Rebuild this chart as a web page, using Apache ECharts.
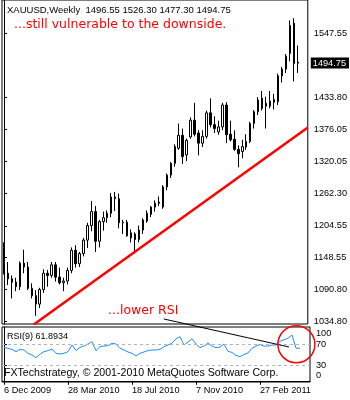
<!DOCTYPE html>
<html>
<head>
<meta charset="utf-8">
<script src="https://cdn.jsdelivr.net/npm/echarts@6/dist/echarts.min.js"></script>
<style>
html, body { margin: 0; padding: 0; background: #fff; }
#chart { width: 350px; height: 400px; }
</style>
</head>
<body>
<div id="chart"></div>
<script>
// XAUUSD weekly bars, Dec 2009 - May 2011
const weeks = [
  '6 Dec 2009','13 Dec 2009','20 Dec 2009','27 Dec 2009',
  '3 Jan 2010','10 Jan 2010','17 Jan 2010','24 Jan 2010','31 Jan 2010',
  '7 Feb 2010','14 Feb 2010','21 Feb 2010','28 Feb 2010',
  '7 Mar 2010','14 Mar 2010','21 Mar 2010','28 Mar 2010',
  '4 Apr 2010','11 Apr 2010','18 Apr 2010','25 Apr 2010',
  '2 May 2010','9 May 2010','16 May 2010','23 May 2010','30 May 2010',
  '6 Jun 2010','13 Jun 2010','20 Jun 2010','27 Jun 2010',
  '4 Jul 2010','11 Jul 2010','18 Jul 2010','25 Jul 2010',
  '1 Aug 2010','8 Aug 2010','15 Aug 2010','22 Aug 2010','29 Aug 2010',
  '5 Sep 2010','12 Sep 2010','19 Sep 2010','26 Sep 2010',
  '3 Oct 2010','10 Oct 2010','17 Oct 2010','24 Oct 2010','31 Oct 2010',
  '7 Nov 2010','14 Nov 2010','21 Nov 2010','28 Nov 2010',
  '5 Dec 2010','12 Dec 2010','19 Dec 2010','26 Dec 2010',
  '2 Jan 2011','9 Jan 2011','16 Jan 2011','23 Jan 2011','30 Jan 2011',
  '6 Feb 2011','13 Feb 2011','20 Feb 2011','27 Feb 2011',
  '6 Mar 2011','13 Mar 2011','20 Mar 2011','27 Mar 2011',
  '3 Apr 2011','10 Apr 2011','17 Apr 2011','24 Apr 2011',
  '1 May 2011','8 May 2011'
];
// empty space kept to the right of the last bar
const shiftWeeks = ['15 May 2011', '22 May 2011'];

const opens = [
  1166,1120,1110,1104, 1096,1138,1131,1093,1080, 1065,1091,1120,1116,
  1135,1113,1103,1106, 1125,1161,1137,1155, 1179,1205,1230,1177,1212,
  1219,1227,1256,1253, 1210,1211,1192,1190, 1180,1197,1213,1225,1238,
  1247,1238,1274,1295, 1316,1343,1366,1331,1363, 1393,1370,1352,1364,
  1406,1385,1372,1381, 1420,1368,1359,1341,1337, 1345,1355,1387,1408,
  1432,1423,1418,1430, 1426,1472,1484,1512, 1566,1496.55
];
const highs = [
  1175,1140,1116,1112, 1141,1162,1140,1102,1090, 1094,1127,1126,1140,
  1140,1130,1112,1130, 1166,1170,1158,1183, 1210,1249,1240,1215,1230,
  1232,1263,1265,1262, 1215,1215,1198,1193, 1205,1218,1232,1240,1250,
  1257,1277,1298,1318, 1350,1387,1378,1360,1398, 1424,1375,1375,1410,
  1432,1400,1392,1424, 1425,1392,1375,1348,1358, 1368,1390,1411,1434,
  1445,1435,1445,1440, 1476,1488,1511,1571, 1575,1526.30
];
const lows = [
  1118,1099,1075,1088, 1090,1120,1090,1075,1044, 1058,1085,1096,1112,
  1105,1100,1088,1100, 1120,1130,1131,1150, 1165,1195,1158,1166,1196,
  1210,1220,1231,1200, 1190,1185,1175,1155, 1175,1190,1210,1220,1230,
  1240,1235,1268,1290, 1310,1340,1315,1320,1360, 1364,1330,1345,1360,
  1380,1370,1367,1375, 1352,1355,1338,1309,1325, 1340,1352,1378,1402,
  1410,1378,1414,1412, 1420,1460,1477,1498, 1462,1477.30
];
const closes = [
  1122,1110,1104,1096, 1138,1131,1093,1080,1065, 1091,1120,1116,1135,
  1113,1103,1106,1125, 1161,1137,1155,1179, 1205,1230,1177,1212,1219,
  1227,1256,1253,1210, 1211,1187,1183,1180, 1197,1215,1227,1238,1245,
  1245,1274,1295,1316, 1346,1366,1328,1357,1393, 1368,1352,1364,1406,
  1385,1378,1381,1420, 1367,1358,1341,1333,1346, 1355,1387,1408,1429,
  1414,1418,1427,1425, 1472,1484,1507,1562, 1494,1494.75
];

// RSI(9) of the weekly closes
const rsi9 = [
  63.6,61.7,59.8,55.4, 59.8,58.6,52.3,49.0,44.0, 50.5,55.4,57.3,60.4,
  52.3,51.0,52.3,55.4, 68.1,57.3,63.6,66.2, 70.0,74.4,57.3,64.9,66.2,
  66.8,71.3,70.0,61.7, 58.6,54.8,52.3,47.2, 52.3,54.8,57.3,58.6,58.6,
  59.8,64.9,68.1,71.3, 80.0,84.0,68.0,74.0,80.0, 70.0,63.0,66.0,72.0,
  66.0,63.0,64.0,70.0, 56.0,54.0,48.0,46.0,50.0, 53.0,62.0,66.0,69.0,
  66.0,66.0,68.0,68.0, 75.0,78.0,81.0,87.0, 62.0,61.8934
];

const priceTicks = [1034.80, 1090.80, 1148.55, 1204.55, 1262.30, 1320.05, 1376.05, 1433.80, 1547.55];
const rsiLevels = [30, 70];
const rsiTop = 100;
const rsiBottom = 0;
const lastPrice = 1494.75;
const dateLabelStep = 16;
// rising support line: [bar index, price]
const supportLine = [[7.5, 1028.7], [76.5, 1379.9]];
// arrow from the note to the RSI high, and the ring around it
const rsiArrowFrom = [40.25, 1038.4];
const rsiArrowTo = [71.25, 64.3];
const rsiRing = [73.1, 69.4];

const cats = weeks.concat(shiftWeeks);
const nBars = cats.length;

const chart = echarts.init(document.getElementById('chart'), null, { renderer: 'canvas' });
const labelFont = { fontFamily: 'Liberation Sans, Arial, sans-serif', fontSize: 9.2, color: '#000' };
const showDate = idx => idx % dateLabelStep === 0 && idx < weeks.length;

chart.setOption({
  animation: false,
  backgroundColor: '#fff',
  grid: [
    { left: 2, right: 40, top: 0, height: 324, show: true, borderColor: '#000', borderWidth: 1, backgroundColor: '#fff' },
    { left: 2, right: 40, top: 327, height: 55, show: true, borderColor: '#000', borderWidth: 1, backgroundColor: '#fff' }
  ],
  xAxis: [
    { type: 'category', gridIndex: 0, data: cats, boundaryGap: true, show: false },
    {
      type: 'category', gridIndex: 1, data: cats, boundaryGap: true,
      axisLine: { show: true, lineStyle: { color: '#000' } },
      axisTick: { show: true, interval: showDate, alignWithLabel: true, length: 4, lineStyle: { color: '#000' } },
      axisLabel: Object.assign({ interval: showDate, align: 'left', margin: 4, hideOverlap: false }, labelFont),
      splitLine: { show: false }
    },
    { type: 'value', gridIndex: 0, min: -0.5, max: nBars - 0.5, show: false },
    { type: 'value', gridIndex: 1, min: -0.5, max: nBars - 0.5, show: false }
  ],
  yAxis: [
    {
      type: 'value', gridIndex: 0, position: 'right', min: 1029.45, max: 1607.3,
      axisLine: { show: true, lineStyle: { color: '#000' } },
      axisTick: { show: true, customValues: priceTicks, length: 3, lineStyle: { color: '#000' } },
      axisLabel: Object.assign({ customValues: priceTicks, margin: 6, showMinLabel: true, showMaxLabel: true, formatter: v => v.toFixed(2) }, labelFont),
      splitLine: { show: false }
    },
    {
      // RSI scale; the level labels sit on their dashed lines
      type: 'value', gridIndex: 1, position: 'right', min: -2.38, max: 102.38,
      axisLine: { show: true, lineStyle: { color: '#000' } },
      axisTick: { show: true, customValues: rsiLevels, length: 3, lineStyle: { color: '#000' } },
      axisLabel: Object.assign({ customValues: rsiLevels, margin: 6, hideOverlap: false, lineHeight: 8 }, labelFont),
      splitLine: { show: false }
    },
    {
      // 0 and 100 are drawn pulled inside the pane, as the terminal does
      type: 'value', gridIndex: 1, position: 'right', offset: 0, min: -16.8, max: 115.1,
      axisLine: { show: false },
      axisTick: { show: false },
      axisLabel: Object.assign({
        customValues: [rsiTop], margin: 6, hideOverlap: false, lineHeight: 8,
        showMinLabel: true, showMaxLabel: true
      }, labelFont),
      splitLine: { show: false }
    }
  ],
  series: [
    {
      type: 'candlestick', xAxisIndex: 0, yAxisIndex: 0,
      data: weeks.map((_, i) => [opens[i], closes[i], lows[i], highs[i]]),
      barWidth: 2,
      itemStyle: { color: '#fff', color0: '#000', borderColor: '#000', borderColor0: '#000', borderWidth: 1 },
      markLine: {
        silent: true, symbol: 'none',
        lineStyle: { color: 'transparent', width: 0 },
        label: {
          show: true, position: 'end', distance: 3,
          formatter: () => lastPrice.toFixed(2),
          backgroundColor: '#000', color: '#fff',
          fontFamily: labelFont.fontFamily, fontSize: 9.2, padding: [1, 3, 1, 2]
        },
        data: [{ yAxis: lastPrice }]
      }
    },
    {
      type: 'line', xAxisIndex: 2, yAxisIndex: 0, data: supportLine,
      symbol: 'none', clip: true, silent: true,
      lineStyle: { color: '#ff0000', width: 2.5 }
    },
    {
      type: 'line', xAxisIndex: 1, yAxisIndex: 1, data: rsi9,
      symbol: 'none', silent: true,
      lineStyle: { color: '#1e90ff', width: 1 },
      markLine: {
        silent: true, symbol: 'none', label: { show: false },
        lineStyle: { color: '#b4b4b4', type: [3, 3], width: 1 },
        data: rsiLevels.map(v => ({ yAxis: v }))
      }
    }
  ]
});

// annotations anchored to data coordinates
const p0 = chart.convertToPixel({ xAxisIndex: 2, yAxisIndex: 0 }, rsiArrowFrom);
const p1 = chart.convertToPixel({ xAxisIndex: 3, yAxisIndex: 1 }, rsiArrowTo);
const pc = chart.convertToPixel({ xAxisIndex: 3, yAxisIndex: 1 }, rsiRing);
// bottom scale label of the RSI pane, next to the right axis
const paneRight = chart.convertToPixel({ xAxisIndex: 3 }, nBars - 0.5);
const zeroY = chart.convertToPixel({ yAxisIndex: 2 }, rsiBottom);
const header = 'XAUUSD,Weekly  ' + [opens, highs, lows, closes].map(a => a[a.length - 1].toFixed(2)).join(' ');
const noteFont = 'DejaVu Sans, Verdana, sans-serif';

chart.setOption({
  graphic: [
    { type: 'text', left: 7, top: 5, z: 10, style: { text: header, font: '9.5px Liberation Sans, Arial, sans-serif', fill: '#000' } },
    { type: 'text', left: 14, top: 18, z: 10, style: { text: '...still vulnerable to the downside.', fontFamily: noteFont, fontSize: 12.5, fill: '#ff0000' } },
    { type: 'text', left: 108, top: 304, z: 10, style: { text: '...lower RSI', fontFamily: noteFont, fontSize: 12.5, fill: '#ff0000' } },
    { type: 'text', left: 7, top: 332, z: 10, style: { text: 'RSI(9) ' + rsi9[rsi9.length - 1].toFixed(4), font: '9px Liberation Sans, Arial, sans-serif', fill: '#000' } },
    { type: 'text', left: 4, top: 368, z: 10, style: { text: 'FXTechstrategy, \u00a9 2001-2010 MetaQuotes Software Corp.', font: '10.6px Liberation Sans, Arial, sans-serif', fill: '#000' } },
    { type: 'text', x: paneRight + 6, y: zeroY, z: 10, style: { text: String(rsiBottom), font: '9.2px Liberation Sans, Arial, sans-serif', fill: '#000', align: 'left', verticalAlign: 'middle' } },
    { type: 'line', z: 20, silent: true, shape: { x1: p0[0], y1: p0[1], x2: p1[0], y2: p1[1] }, style: { stroke: '#000', lineWidth: 1 } },
    { type: 'circle', z: 20, silent: true, shape: { cx: pc[0], cy: pc[1], r: 18.5 }, style: { fill: 'none', stroke: '#ff0000', lineWidth: 1.5 } }
  ]
});
</script>
</body>
</html>
